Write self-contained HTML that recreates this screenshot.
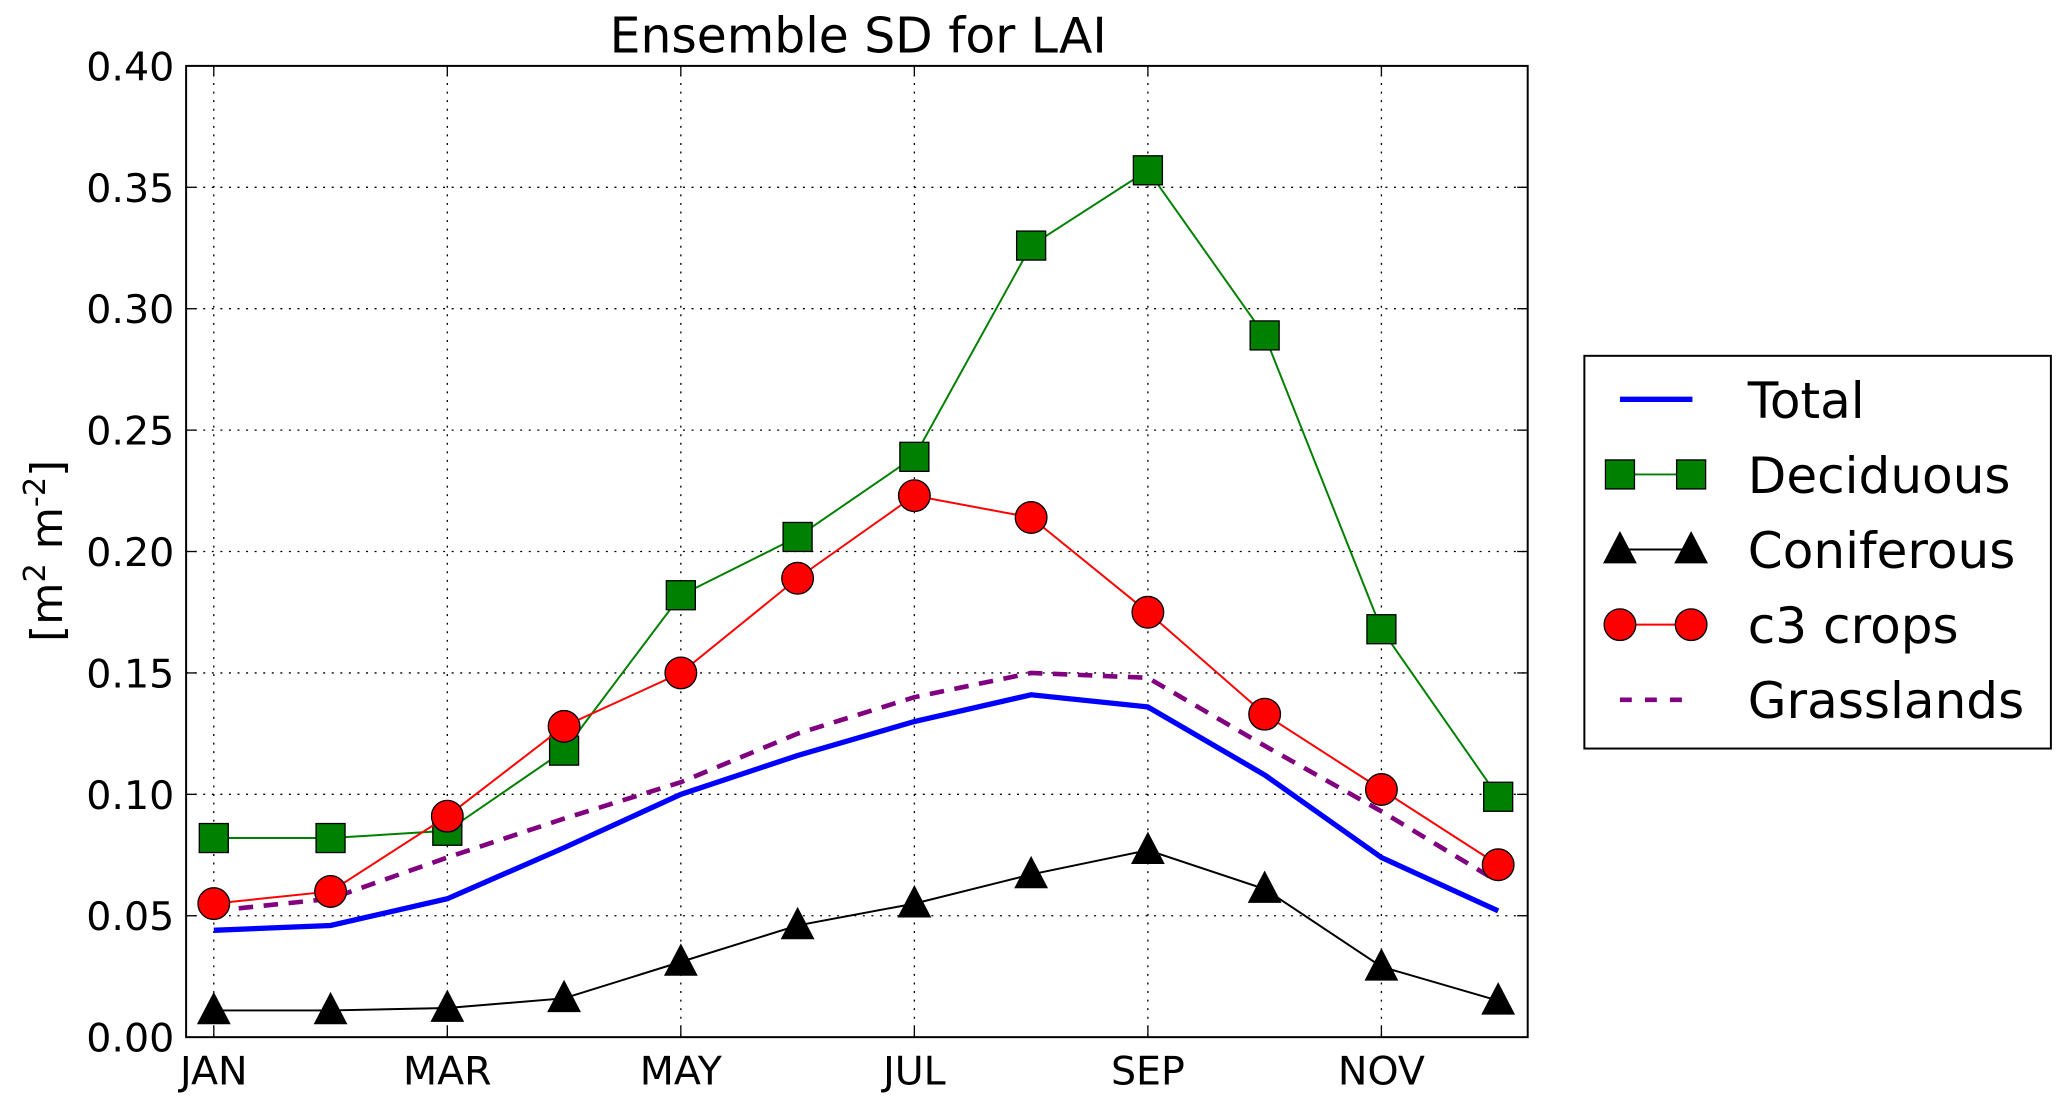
<!DOCTYPE html>
<html><head><meta charset="utf-8">
<style>
html,body{margin:0;padding:0;background:#fff;}
svg{display:block;font-family:"DejaVu Sans","Liberation Sans",sans-serif;}
</style></head>
<body>
<svg id="chart" width="2067" height="1107" viewBox="0 0 1568 840" xmlns="http://www.w3.org/2000/svg">
<g id="grid"></g>
<g id="series"></g>
<rect x="141" y="50" width="1018" height="737" fill="none" stroke="#000" stroke-width="1.5"/>
<g id="ticks"></g>
<text x="651" y="40" font-size="37" text-anchor="middle">Ensemble SD for LAI</text>
<text transform="translate(47,418) rotate(-90)" font-size="33" text-anchor="middle">[m<tspan dy="-13" font-size="23">2</tspan><tspan dy="13"> m</tspan><tspan dy="-13" font-size="23">-2</tspan><tspan dy="13">]</tspan></text>
<g id="legend">
<rect x="1202" y="270" width="354" height="298" fill="#fff" stroke="#000" stroke-width="1.5"/>
</g>
</svg>
<script>
const months = ["JAN","FEB","MAR","APR","MAY","JUN","JUL","AUG","SEP","OCT","NOV","DEC"];
const monthLabels = ["JAN","","MAR","","MAY","","JUL","","SEP","","NOV",""];
const yTicks = [0,0.05,0.10,0.15,0.20,0.25,0.30,0.35,0.40];
const yTickLabels = ["0.00","0.05","0.10","0.15","0.20","0.25","0.30","0.35","0.40"];
const total = [0.044,0.046,0.057,0.078,0.100,0.116,0.130,0.141,0.136,0.108,0.074,0.052];
const deciduous = [0.082,0.082,0.085,0.118,0.182,0.206,0.239,0.326,0.357,0.289,0.168,0.099];
const coniferous = [0.011,0.011,0.012,0.016,0.031,0.046,0.055,0.067,0.077,0.061,0.029,0.015];
const c3crops = [0.055,0.060,0.091,0.128,0.150,0.189,0.223,0.214,0.175,0.133,0.102,0.071];
const grasslands = [0.052,0.057,0.074,0.090,0.105,0.125,0.140,0.150,0.148,0.120,0.093,0.064];

const NS="http://www.w3.org/2000/svg";
function X(i){return 162+88.6*i;}
function Y(v){return 787-v*(737/0.4);}
function mk(tag,attrs,parent){const e=document.createElementNS(NS,tag);for(const k in attrs)e.setAttribute(k,attrs[k]);parent.appendChild(e);return e;}
const grid=document.getElementById('grid'),ticks=document.getElementById('ticks'),series=document.getElementById('series'),legend=document.getElementById('legend');

yTicks.forEach((v,i)=>{
  const y=Y(v);
  if(i>0&&i<yTicks.length-1){const g=mk('line',{x1:141,x2:1159,y1:y,y2:y,stroke:'#000','stroke-width':1,'stroke-dasharray':'1.5,5'},grid);
  
  }
  mk('line',{x1:141,x2:149,y1:y,y2:y,stroke:'#000','stroke-width':1},ticks);
  mk('line',{x1:1151,x2:1159,y1:y,y2:y,stroke:'#000','stroke-width':1},ticks);
  const t=mk('text',{x:132,y:y+11,'font-size':30,'text-anchor':'end'},ticks);
  t.textContent=yTickLabels[i];
  
  
});
months.forEach((m,i)=>{
  if(!monthLabels[i])return;
  const x=X(i);
  const g=mk('line',{x1:x,x2:x,y1:50,y2:787,stroke:'#000','stroke-width':1,'stroke-dasharray':'1.5,5'},grid);
  
  
  mk('line',{x1:x,x2:x,y1:779,y2:787,stroke:'#000','stroke-width':1},ticks);
  mk('line',{x1:x,x2:x,y1:50,y2:58,stroke:'#000','stroke-width':1},ticks);
  const t=mk('text',{x:x,y:823,'font-size':30,'text-anchor':'middle'},ticks);
  t.textContent=monthLabels[i];
  
  
});

function marker(type,x,y,color,parent){
  if(type==='s')return mk('rect',{x:x-11,y:y-11,width:22,height:22,fill:color,stroke:'#000','stroke-width':1},parent);
  if(type==='o')return mk('circle',{cx:x,cy:y,r:12,fill:color,stroke:'#000','stroke-width':1},parent);
  if(type==='^')return mk('polygon',{points:`${x},${y-13} ${x-12},${y+10} ${x+12},${y+10}`,fill:color,stroke:'#000','stroke-width':1},parent);
}
function drawSeries(name,data,color,width,dash,mtype){
  const g=mk('g',{},series);
  
  
  const pts=data.map((v,i)=>X(i)+','+Y(v)).join(' ');
  const attrs={points:pts,fill:'none',stroke:color,'stroke-width':width};
  if(dash)attrs['stroke-dasharray']=dash;
  mk('polyline',attrs,g);
  if(mtype)data.forEach((v,i)=>{const m=marker(mtype,X(i),Y(v),color,g);
    
    });
}
drawSeries('coniferous',coniferous,'#000',1.5,null,'^');
drawSeries('total',total,'#0000ff',4,null,null);
drawSeries('grasslands',grasslands,'#800080',3.5,'11,8',null);
drawSeries('deciduous',deciduous,'#008000',1.5,null,'s');
drawSeries('c3-crops',c3crops,'#ff0000',1.5,null,'o');

const legItems=[['Total','#0000ff',4,null,null],['Deciduous','#008000',1.5,null,'s'],['Coniferous','#000',1.5,null,'^'],['c3 crops','#ff0000',1.5,null,'o'],['Grasslands','#800080',3.5,'11,8',null]];
legItems.forEach((it,i)=>{
  const y=303+57*i;
  const g=mk('g',{},legend);
  
  
  const a={x1:1229,x2:1284,y1:y,y2:y,stroke:it[1],'stroke-width':it[2]};
  if(it[3])a['stroke-dasharray']='9,10';
  mk('line',a,g);
  if(it[4]){marker(it[4],1229,y,it[1],g);marker(it[4],1283,y,it[1],g);}
  const t=mk('text',{x:1326,y:y+14,'font-size':38},g);
  t.textContent=it[0];
});
</script>
</body></html>
